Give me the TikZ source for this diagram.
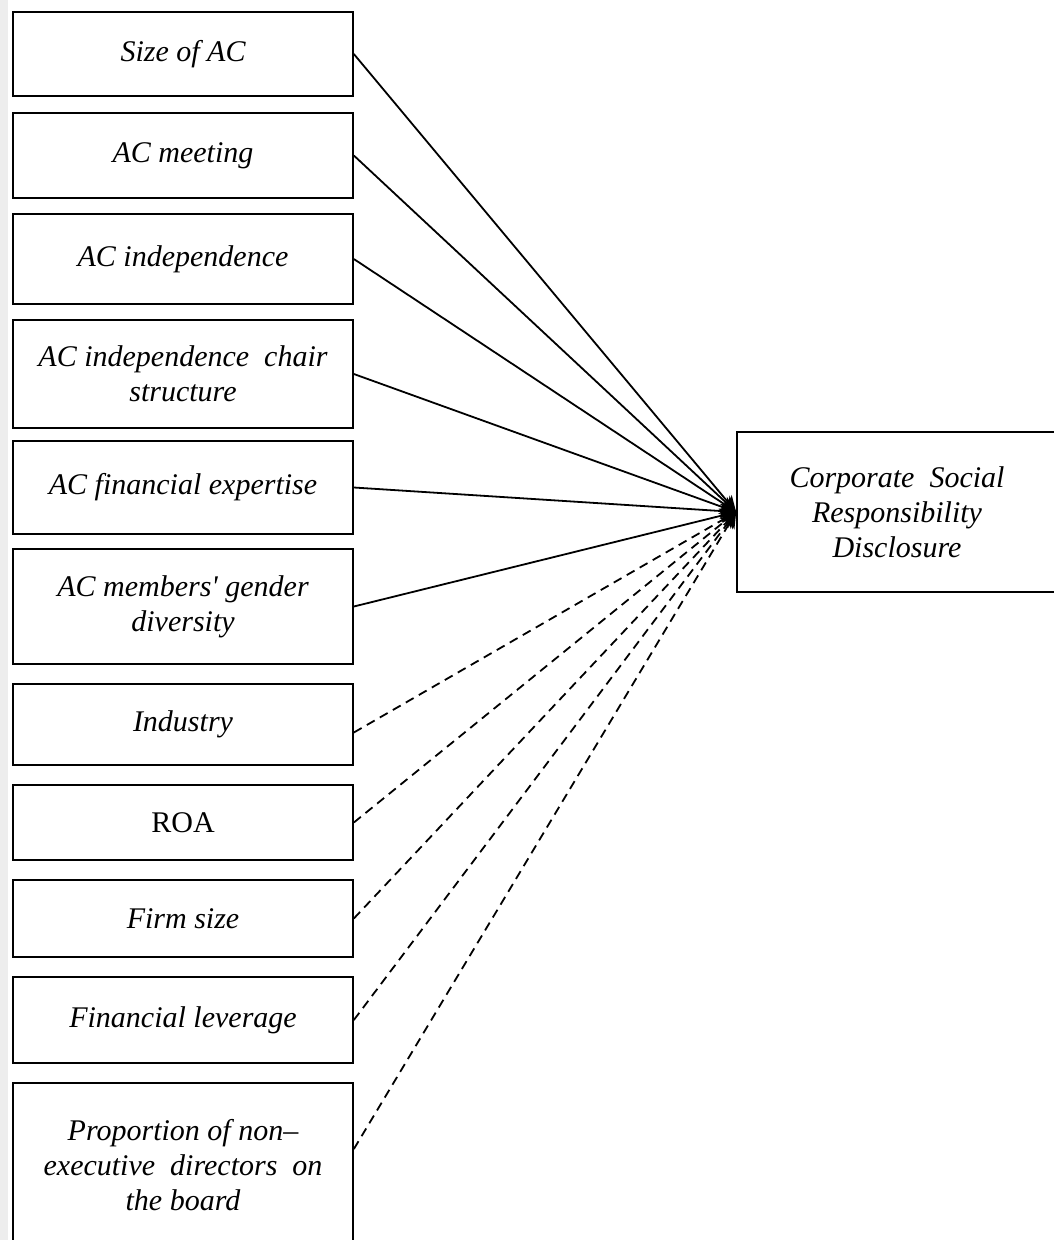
\documentclass[tikz,border=0pt]{standalone}
\usepackage{fontspec}
\setmainfont{Liberation Serif}[Ligatures=TeXOff]
\usetikzlibrary{arrows.meta}
\begin{document}
\begin{tikzpicture}[x=1pt,y=-1pt,
  varbox/.style={draw, line width=1.7pt, minimum width=340pt, inner sep=0pt,
    align=center, font=\fontsize{30}{35}\selectfont\itshape},
  link/.style={line width=1.8pt, -{Stealth[length=16pt,width=15pt]}},
  ctrl/.style={link, dash pattern=on 9pt off 6pt}]
\useasboundingbox (0,0) rectangle (1053,1240);
\fill[white] (0,0) rectangle (1053,1240);
% faint page edge on the left
\fill[black!7] (0,0) rectangle (8,1240);

% explanatory variables
\node[varbox, minimum height=84pt]  (v1)  at (183,54)    {Size of AC};
\node[varbox, minimum height=85pt]  (v2)  at (183,155.5) {AC meeting};
\node[varbox, minimum height=90pt]  (v3)  at (183,259)   {AC independence};
\node[varbox, minimum height=108pt] (v4)  at (183,374)   {AC independence\ \ chair\\structure};
\node[varbox, minimum height=93pt]  (v5)  at (183,487.5) {AC financial expertise};
\node[varbox, minimum height=115pt] (v6)  at (183,606.5) {AC members'\ gender\\diversity};
% control variables
\node[varbox, minimum height=81pt]  (c1)  at (183,724.5) {Industry};
\node[varbox, minimum height=75pt, font=\fontsize{30}{35}\selectfont] (c2) at (183,822.5) {ROA};
\node[varbox, minimum height=77pt]  (c3)  at (183,918.5) {Firm size};
\node[varbox, minimum height=86pt]  (c4)  at (183,1020)  {Financial leverage};
\node[varbox, minimum height=164pt] (c5)  at (183,1165)  {Proportion of non–\\executive\ \ directors\ \ on\\the board};

% dependent variable
\node[varbox, minimum width=320pt, minimum height=160pt] (csr) at (897,512)
  {Corporate\ \ Social\\Responsibility\\Disclosure};

% relations
\foreach \v in {v1,v2,v3,v4,v5,v6}
  \draw[link] (\v.east) -- (csr.west);
\draw[ctrl] ([yshift=-8pt]c1.east) -- (csr.west);
\foreach \v in {c2,c3,c4}
  \draw[ctrl] (\v.east) -- (csr.west);
\draw[ctrl] ([yshift=16pt]c5.east) -- (csr.west);
\end{tikzpicture}
\end{document}
